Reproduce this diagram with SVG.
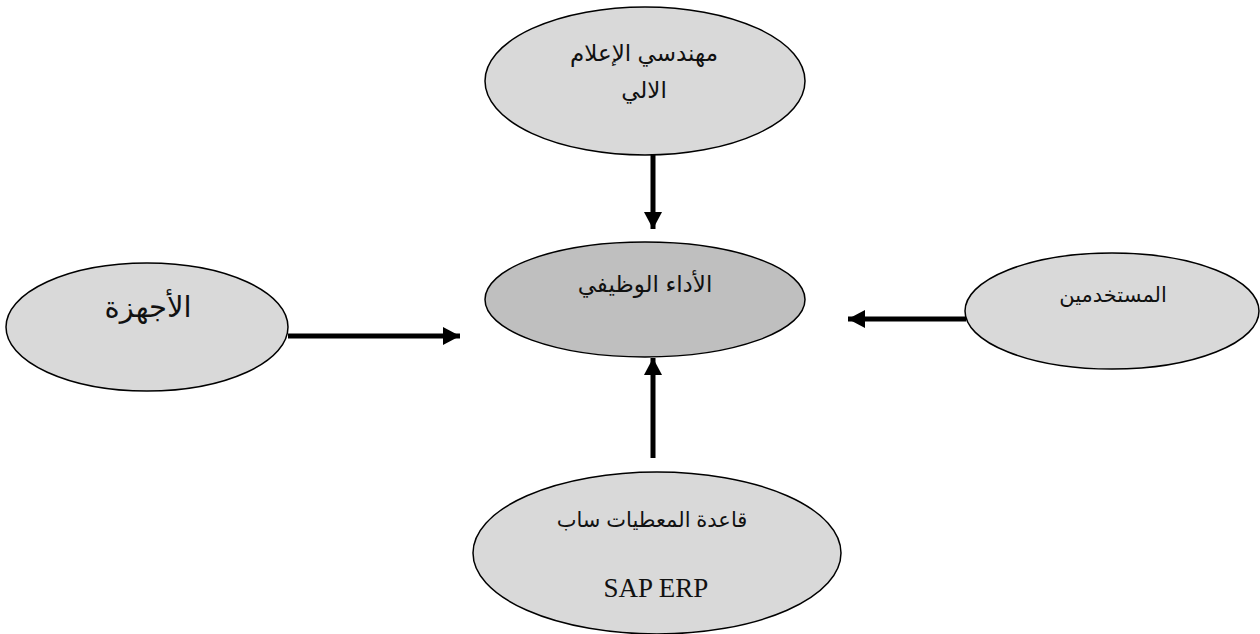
<svg xmlns="http://www.w3.org/2000/svg" width="1260" height="634" viewBox="0 0 1260 634">
<style>
.n{fill:#d9d9d9;stroke:#000;stroke-width:1.5}
.c{fill:#bfbfbf;stroke:#000;stroke-width:1.5}
.t{font-family:"Liberation Sans","DejaVu Sans",sans-serif;font-size:22px;fill:#111;text-anchor:middle;direction:rtl}
.s{font-family:"Liberation Serif",serif;font-size:27px;fill:#111;text-anchor:middle}
.e{stroke:#000;stroke-width:5;fill:none;marker-end:url(#ah)}
</style>
<defs>
<marker id="ah" markerUnits="userSpaceOnUse" markerWidth="18" markerHeight="18" refX="17" refY="9" orient="auto">
<path d="M0,0 L17,9 L0,18 Z" fill="#000"/>
</marker>
</defs>
<rect width="1260" height="634" fill="#fff"/>
<g id="edges">
<line class="e" x1="653" y1="155" x2="653" y2="229"/>
<line class="e" x1="653" y1="458" x2="653" y2="358"/>
<line class="e" x1="288" y1="336" x2="460" y2="336"/>
<line class="e" x1="966" y1="319" x2="848" y2="319"/>
</g>
<g id="node-top">
<ellipse class="n" cx="645" cy="81" rx="160" ry="74"/>
<text class="t" x="644" y="61" style="font-size:23px">مهندسي الإعلام</text>
<text class="t" x="644" y="98" style="font-size:23px">الالي</text>
</g>
<g id="node-center">
<ellipse class="c" cx="645" cy="299.5" rx="160" ry="57.5"/>
<text class="t" x="645" y="292" style="font-size:23px">الأداء الوظيفي</text>
</g>
<g id="node-left">
<ellipse class="n" cx="147" cy="327" rx="141" ry="64"/>
<text class="t" x="148" y="317" style="font-size:29px">الأجهزة</text>
</g>
<g id="node-right">
<ellipse class="n" cx="1112" cy="311" rx="147" ry="58"/>
<text class="t" x="1113" y="302" style="font-size:21px">المستخدمين</text>
</g>
<g id="node-bottom">
<ellipse class="n" cx="657" cy="553" rx="184" ry="81"/>
<text class="t" x="652" y="527" style="font-size:21px">قاعدة المعطيات ساب</text>
<text class="s" x="656" y="597">SAP ERP</text>
</g>
</svg>
